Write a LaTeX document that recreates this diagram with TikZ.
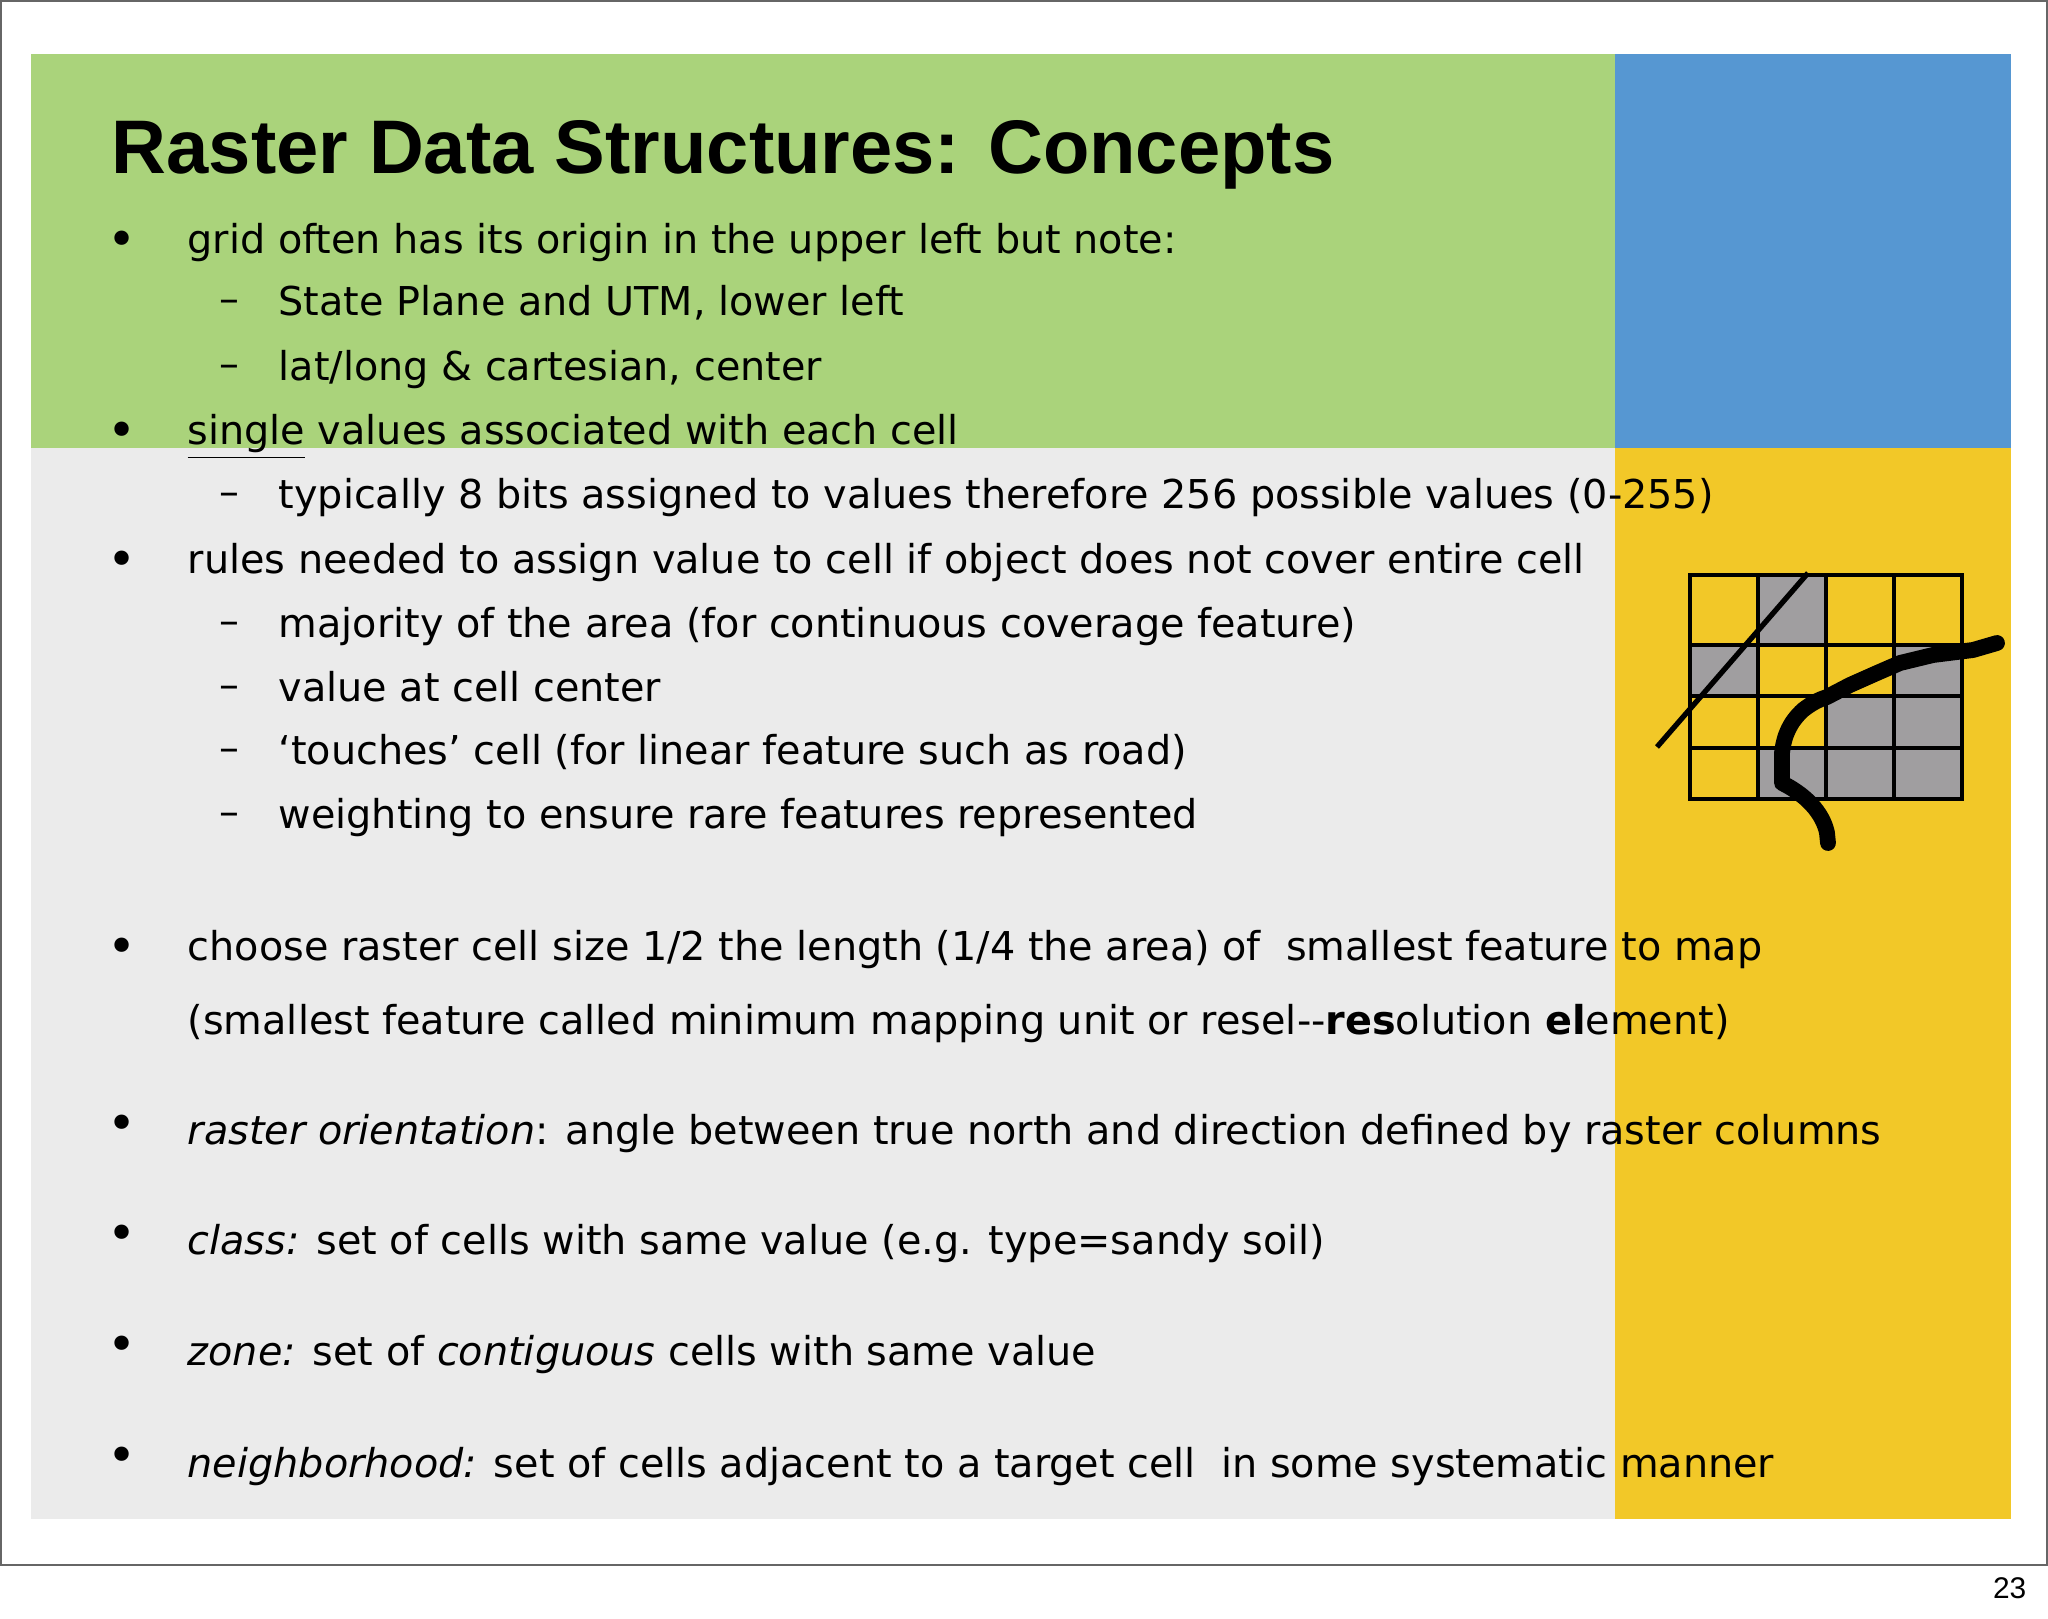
\documentclass[tikz,border=0pt]{standalone}
\usepackage{fontspec}
\setmainfont{Liberation Sans}
\newfontfamily\bodyfont{DejaVu Sans}
\definecolor{bggreen}{RGB}{170,211,123}
\definecolor{bgblue}{RGB}{86,151,210}
\definecolor{bggray}{RGB}{235,235,235}
\definecolor{bgyellow}{RGB}{242,200,40}
\definecolor{cellgray}{RGB}{160,158,160}
\begin{document}
\begin{tikzpicture}[x=0.01cm,y=-0.01cm,
  bodytext/.style={anchor=mid west,inner sep=0pt,font=\bodyfont\fontsize{11.3}{13}\selectfont},
  bul/.style={anchor=center,inner sep=0pt,font=\bodyfont\fontsize{14}{14}\selectfont},
  gcell/.style={fill=cellgray}]
\useasboundingbox (0,0) rectangle (2048,1619);
\fill[white] (0,0) rectangle (2048,1619);
\draw[gray!80!black,line width=0.8pt] (1,1) rectangle (2047,1565);
\fill[bggreen] (31,54) rectangle (1615,448);
\fill[bgblue] (1615,54) rectangle (2011,448);
\fill[bggray] (31,448) rectangle (1615,1519);
\fill[bgyellow] (1615,448) rectangle (2011,1519);
\node[anchor=base west,inner sep=0pt,font=\fontsize{21.6}{23}\selectfont\bfseries] (title) at (111,174) {Raster Data Structures: Concepts};
\foreach \y/\n in {244/b1,435/b2,564/b3,951/b4,1128/b5,1238/b6,1349/b7,1460/b8} \node[bul] (\n) at (122,\y) {•};
\foreach \y/\n in {306/d1,371/d2,499/d3,628/d4,692/d5,755/d6,819/d7} \node[bul,font=\bodyfont\fontsize{11.3}{13}\selectfont] (\n) at (229,\y) {–};
\node[bodytext] (t1) at (187,244) {grid often has its origin in the upper left but note:};
\node[bodytext] (t2) at (278,306) {State Plane and UTM, lower left};
\node[bodytext] (t3) at (278,371) {lat/long \& cartesian, center};
\node[bodytext] (t4) at (187,435) {\underline{single} values associated with each cell};
\node[bodytext] (t5) at (278,499) {typically 8 bits assigned to values therefore 256 possible values (0-255)};
\node[bodytext] (t6) at (187,564) {rules needed to assign value to cell if object does not cover entire cell};
\node[bodytext] (t7) at (278,628) {majority of the area (for continuous coverage feature)};
\node[bodytext] (t8) at (278,692) {value at cell center};
\node[bodytext] (t9) at (278,755) {‘touches’ cell (for linear feature such as road)};
\node[bodytext] (t10) at (278,819) {weighting to ensure rare features represented};
\node[bodytext] (t11) at (187,951) {choose raster cell size 1/2 the length (1/4 the area) of\ \ smallest feature to map};
\node[bodytext] (t12) at (187,1025) {(smallest feature called minimum mapping unit or resel-{}-\textbf{res}olution \textbf{el}ement)};
\node[bodytext] (t13) at (187,1135) {\textit{raster orientation}: angle between true north and direction defined by raster columns};
\node[bodytext] (t14) at (187,1245) {\textit{class:} set of cells with same value (e.g. type=sandy soil)};
\node[bodytext] (t15) at (187,1356) {\textit{zone:} set of \textit{contiguous} cells with same value};
\node[bodytext] (t16) at (187,1468) {\textit{neighborhood:} set of cells adjacent to a target cell\ \ in some systematic manner};
\node[anchor=mid east,inner sep=0pt,font=\fontsize{8.5}{10}\selectfont] (pg) at (2027,1589) {23};
\fill[gcell] (1758,575) rectangle (1826,645);
\fill[gcell] (1690,645) rectangle (1758,696);
\fill[gcell] (1894,645) rectangle (1962,696);
\fill[gcell] (1826,696) rectangle (1962,799);
\fill[gcell] (1758,748) rectangle (1826,799);
\draw[line width=1.3pt] (1690,575) rectangle (1962,799);
\foreach \x in {1758,1826,1894} \draw[line width=1.1pt] (\x,575) -- (\x,799);
\foreach \y in {645,696,748} \draw[line width=1.1pt] (1690,\y) -- (1962,\y);
\draw[line width=1.5pt] (1657,747) -- (1808,573);
\draw[line width=4.5pt,line cap=round,line join=round] (1828,843) -- (1827,833) .. controls (1824,818) and (1812,798) .. (1782,783) -- (1782,753) .. controls (1784,735) and (1790,722) .. (1803,710) .. controls (1812,703) and (1818,700) .. (1827,697) -- (1850,685) -- (1877,673) -- (1900,663) -- (1933,655) -- (1973,650) -- (1997,643);
\end{tikzpicture}
\end{document}
